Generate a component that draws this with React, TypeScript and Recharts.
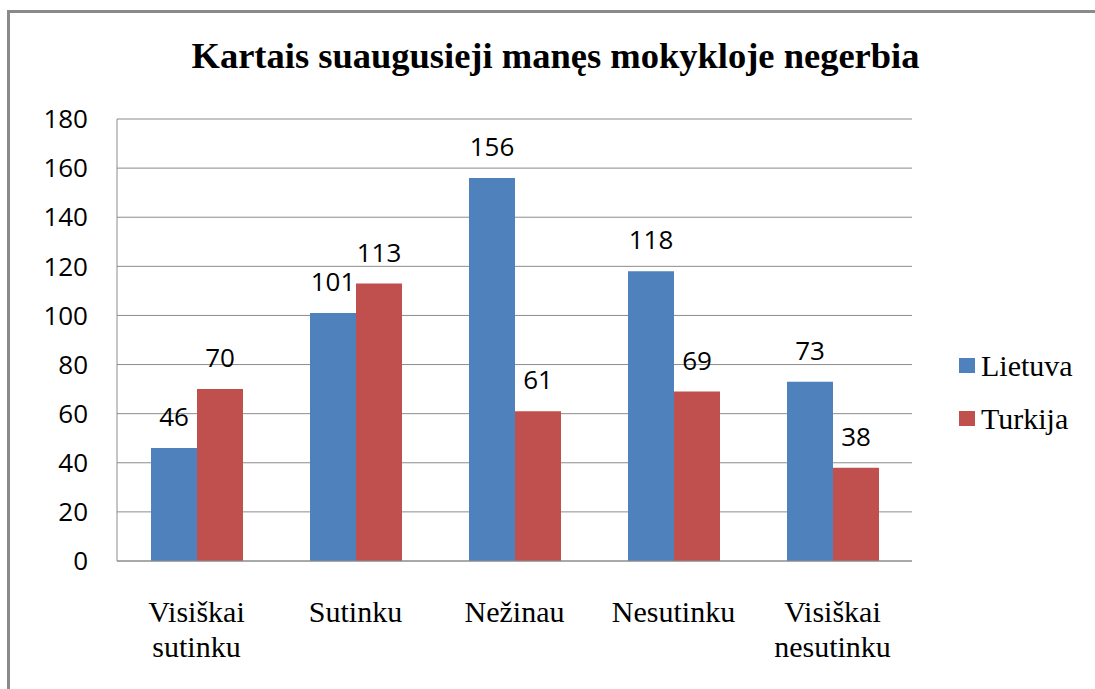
import { BarChart, Bar, XAxis, YAxis, CartesianGrid, Legend, LabelList } from 'recharts'

const categories = ['Visiškai sutinku', 'Sutinku', 'Nežinau', 'Nesutinku', 'Visiškai nesutinku']
const lietuva = [46, 101, 156, 118, 73]
const turkija = [70, 113, 61, 69, 38]
const yTicks = [0, 20, 40, 60, 80, 100, 120, 140, 160, 180]

const SERIF = '"Liberation Serif", "Times New Roman", serif'
const SANS = '"Open Sans", "Liberation Sans", sans-serif'
const BLUE = '#4f81bd'
const RED = '#c0504d'
const GRID = '#8c8c8c'

const data = categories.map((c, i) => ({ name: c, Lietuva: lietuva[i], Turkija: turkija[i] }))

function CategoryTick({ x, y, payload }: any) {
  const words = String(payload.value).split(' ')
  return (
    <text x={x} y={y} textAnchor="middle" fill="#000" fontFamily={SERIF} fontSize={30}>
      {words.map((w, i) => (
        <tspan key={i} x={x} dy={i === 0 ? 59 : 35}>{w}</tspan>
      ))}
    </text>
  )
}

function LegendBox({ payload }: any) {
  return (
    <div>
      {(payload || []).map((p: any) => (
        <div key={p.value} style={{ display: 'flex', alignItems: 'center', height: 53 }}>
          <span style={{ width: 16, height: 15, background: p.color, marginRight: 6, display: 'inline-block' }} />
          <span style={{ fontFamily: SERIF, fontSize: 30, color: '#000' }}>{p.value}</span>
        </div>
      ))}
    </div>
  )
}

export default function App() {
  return (
    <div style={{ position: 'fixed', left: 0, top: 0, width: 1095, height: 689, overflow: 'hidden', background: '#fff' }}>
      <style>{'html,body{margin:0;overflow:hidden}'}</style>
      {/* frame: only the left and top edges show in the picture */}
      <div style={{ position: 'absolute', left: 7, top: 10, width: 1088, height: 679, boxShadow: 'inset 3px 3px 0 #8a8a8a' }} />
      <div style={{ position: 'absolute', left: 0, width: 1111, top: 34, textAlign: 'center', fontFamily: SERIF, fontWeight: 'bold', fontSize: 36.5, color: '#000', lineHeight: '44px' }}>
        Kartais suaugusieji manęs mokykloje negerbia
      </div>
      <BarChart
        width={1095}
        height={689}
        data={data}
        margin={{ top: 119, right: 183, bottom: 28, left: 37 }}
        barCategoryGap={34}
        barGap={0}
        style={{ position: 'absolute', left: 0, top: 0 }}
      >
        <CartesianGrid vertical={false} stroke={GRID} />
        <XAxis
          dataKey="name"
          height={100}
          tick={<CategoryTick />}
          tickLine={false}
          tickSize={0}
          axisLine={{ stroke: GRID }}
          interval={0}
        />
        <YAxis
          width={80}
          domain={[0, 180]}
          ticks={yTicks}
          tickSize={0}
          tickMargin={29}
          tickLine={false}
          axisLine={{ stroke: GRID }}
          tick={{ fill: '#000', fontSize: 26, fontFamily: SANS }}
        />
        <Legend
          layout="vertical"
          align="center"
          verticalAlign="middle"
          content={<LegendBox />}
          wrapperStyle={{ left: 959, top: 339, width: 130 }}
        />
        <Bar dataKey="Lietuva" fill={BLUE} isAnimationActive={false}>
          <LabelList dataKey="Lietuva" position="top" offset={22} fill="#000" fontSize={26} fontFamily={SANS} />
        </Bar>
        <Bar dataKey="Turkija" fill={RED} isAnimationActive={false}>
          <LabelList dataKey="Turkija" position="top" offset={22} fill="#000" fontSize={26} fontFamily={SANS} />
        </Bar>
      </BarChart>
    </div>
  )
}
